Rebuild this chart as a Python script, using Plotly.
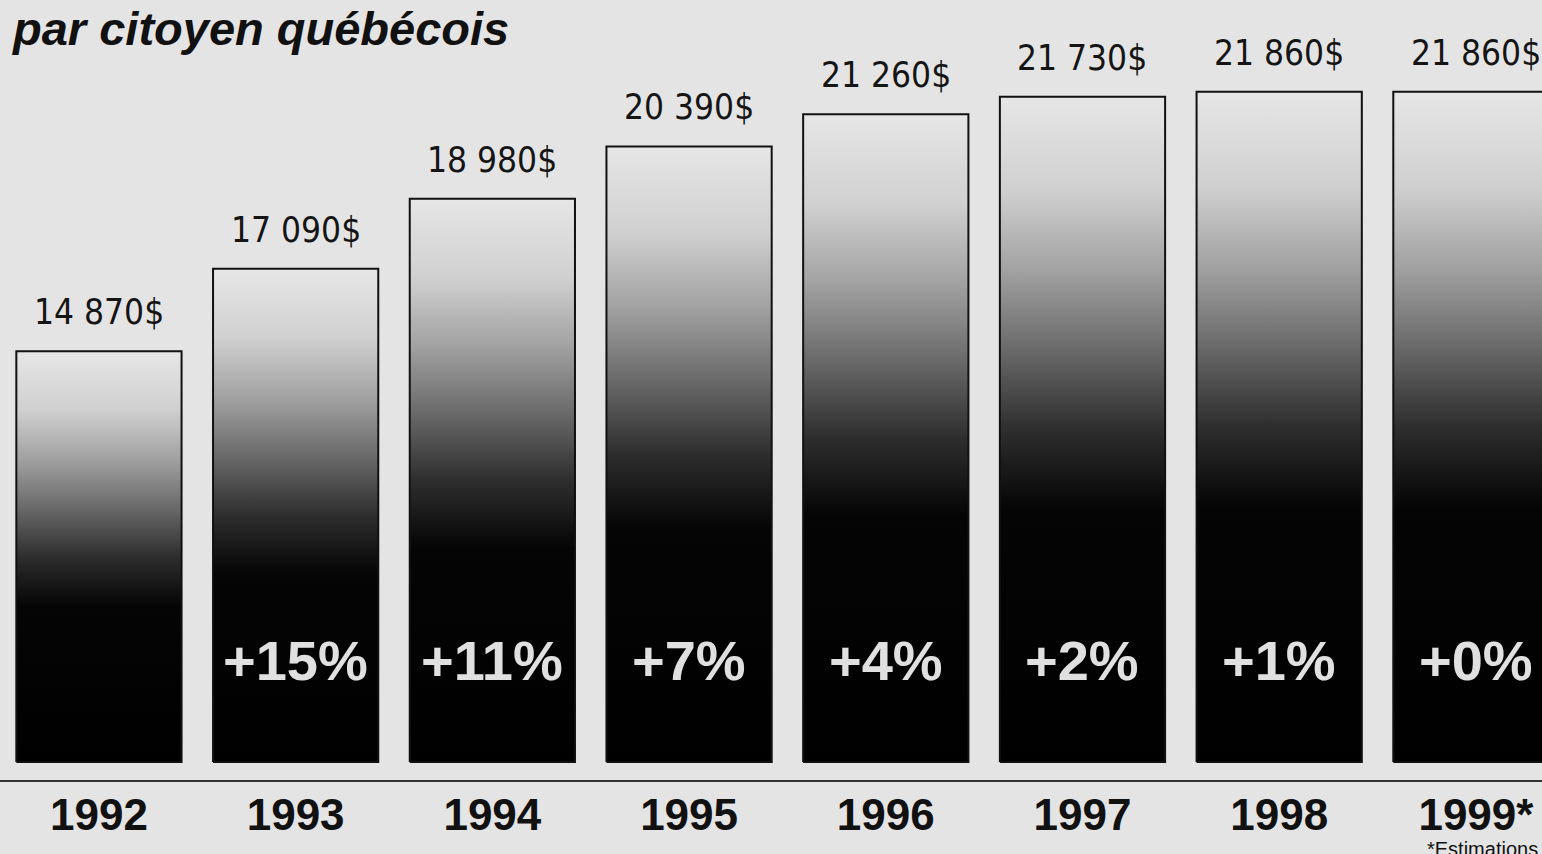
import plotly.graph_objects as go

# ---- data ----
years = ["1992", "1993", "1994", "1995", "1996", "1997", "1998", "1999*"]
values = [14870, 17090, 18980, 20390, 21260, 21730, 21860, 21860]
value_labels = ["14 870$", "17 090$", "18 980$", "20 390$", "21 260$", "21 730$", "21 860$", "21 860$"]
growth_labels = ["", "+15%", "+11%", "+7%", "+4%", "+2%", "+1%", "+0%"]
title_text = "par citoyen québécois"
footnote_text = "*Estimations"

# ---- style / layout constants ----
BG = "#e4e4e4"
BAR_BASE = 3800
BAR_W = 0.84
Y_RANGE = [3315, 24336]
X_RANGE = [-0.503, 7.336]
NARROW = "DejaVu Sans Condensed, Liberation Sans Narrow, Arial Narrow, sans-serif"
BOLD = "Liberation Sans, Arial, Helvetica, sans-serif"

gradient = [
    [0.0, "#000000"], [0.38, "#050505"], [0.5, "#2e2e2e"], [0.62, "#6a6a6a"],
    [0.74, "#a2a2a2"], [0.86, "#d0d0d0"], [1.0, "#e6e6e6"],
]

fig = go.Figure()
for i, v in enumerate(values):
    x0, x1 = i - BAR_W / 2, i + BAR_W / 2
    fig.add_trace(go.Scatter(
        x=[x0, x1, x1, x0, x0],
        y=[BAR_BASE, BAR_BASE, v, v, BAR_BASE],
        mode="lines",
        fill="toself",
        fillgradient=dict(type="vertical", colorscale=gradient),
        line=dict(color="#111111", width=2),
        hoverinfo="skip",
        showlegend=False,
    ))

annotations = []
for i, (v, lab) in enumerate(zip(values, value_labels)):
    annotations.append(dict(
        x=i, y=v, xref="x", yref="y", text=lab, showarrow=False,
        yanchor="bottom", yshift=17,
        font=dict(family=NARROW, size=35, color="#151515"),
    ))
for i, lab in enumerate(growth_labels):
    if lab:
        annotations.append(dict(
            x=i, y=0.1526, xref="x", yref="paper", text="<b>" + lab + "</b>",
            showarrow=False, yanchor="middle",
            font=dict(family=BOLD, size=56, color="#e0e0e0"),
        ))
annotations.append(dict(
    x=0.0058, y=0.964, xref="paper", yref="paper", xanchor="left", yanchor="middle",
    text="<b><i>" + title_text + "</i></b>", showarrow=False,
    font=dict(family=BOLD, size=47, color="#111111"),
))
annotations.append(dict(
    x=0.9987, y=-0.0718, xref="paper", yref="paper", xanchor="right", yanchor="top",
    text=footnote_text, showarrow=False,
    font=dict(family=BOLD, size=20, color="#111111"),
))

fig.update_layout(
    width=1542, height=854,
    margin=dict(l=0, r=0, t=0, b=74),
    paper_bgcolor=BG, plot_bgcolor=BG,
    annotations=annotations,
    xaxis=dict(
        range=X_RANGE, tickmode="array", tickvals=list(range(len(years))),
        ticktext=["<b>" + y + "</b>" for y in years],
        tickfont=dict(family=BOLD, size=44, color="#111111"),
        showgrid=False, zeroline=False, showline=True, linecolor="#333333", linewidth=2,
        ticks="", ticklabelstandoff=-5, fixedrange=True,
    ),
    yaxis=dict(range=Y_RANGE, visible=False, showgrid=False, zeroline=False, fixedrange=True),
)

fig.write_html(
    "out.html",
    config={"displayModeBar": False},
    post_script="document.body.style.margin='0';document.body.style.overflow='hidden';",
)
